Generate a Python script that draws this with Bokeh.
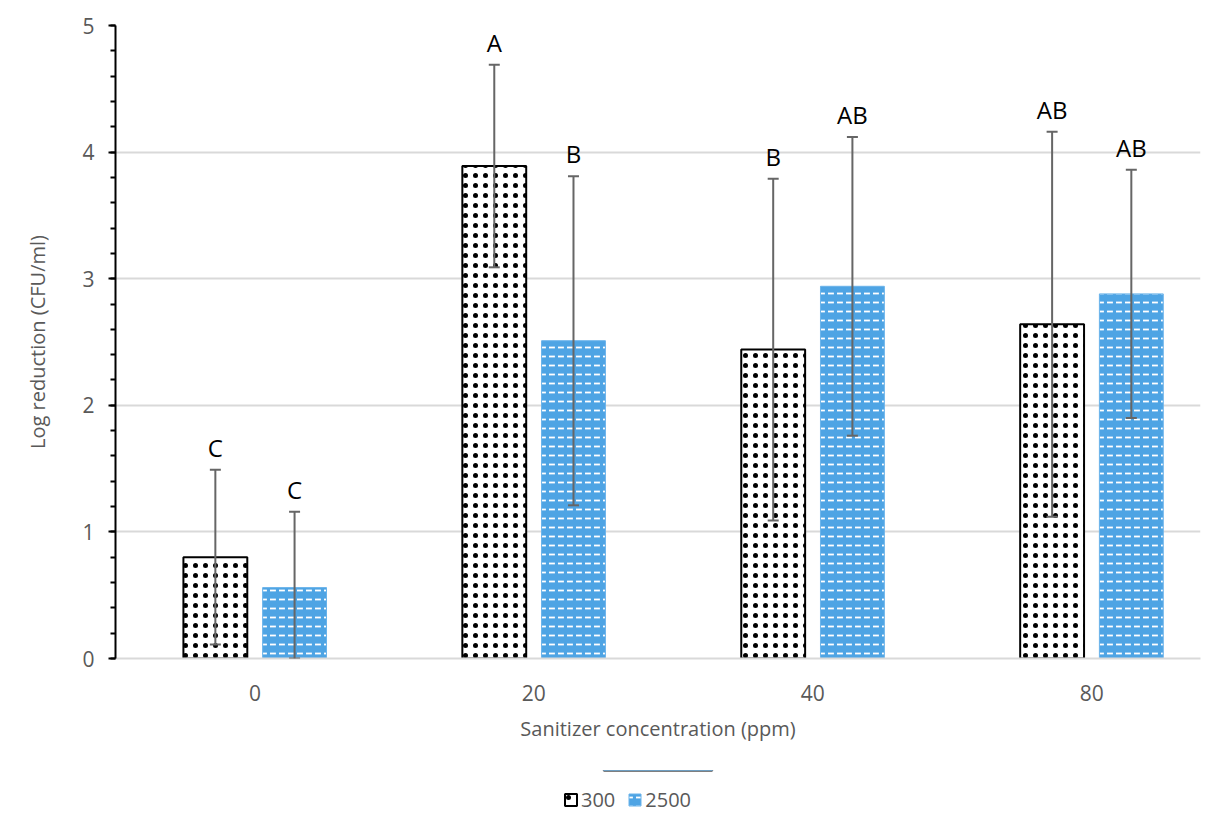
from bokeh.plotting import figure
from bokeh.layouts import column
from bokeh.models import (ColumnDataSource, Whisker, TeeHead, Legend, LegendItem,
                          SingleIntervalTicker, FixedTicker, Range1d)
from bokeh.core.properties import value
from bokeh.embed import file_html
from bokeh.resources import INLINE

# ---- data ----
concentrations = ["0", "20", "40", "80"]
mean_300 = [0.80, 3.89, 2.44, 2.64]
sd_300 = [0.69, 0.80, 1.35, 1.52]
letters_300 = ["C", "A", "B", "AB"]
mean_2500 = [0.56, 2.51, 2.94, 2.88]
sd_2500 = [0.60, 1.30, 1.18, 0.98]
letters_2500 = ["C", "B", "AB", "AB"]
series_names = ["300", "2500"]

FONT = "Open Sans"
GREY = "#595959"

idx = list(range(len(concentrations)))
offset = 0.142
bw = 0.229

STYLE_300 = dict(fill_color="white", line_color="black", line_width=2,
                 hatch_pattern="dot", hatch_color="black", hatch_scale=10,
                 hatch_weight=1.0)
STYLE_2500 = dict(fill_color="#4EA4E4", line_color="#6AB3EA", line_width=1,
                  hatch_pattern="horizontal_dash", hatch_color="white",
                  hatch_scale=9, hatch_weight=1.8)

def make_src(means, sds, letters, shift):
    return ColumnDataSource(dict(
        x=[i + shift for i in idx],
        top=means,
        upper=[m + s for m, s in zip(means, sds)],
        lower=[max(0.0, m - s) for m, s in zip(means, sds)],
        letter=letters,
    ))

src300 = make_src(mean_300, sd_300, letters_300, -offset)
src2500 = make_src(mean_2500, sd_2500, letters_2500, offset)

p = figure(width=1225, height=770, output_backend="svg", toolbar_location=None,
           x_range=Range1d(-0.5, 3.39), y_range=Range1d(0, 5),
           min_border_left=115, min_border_top=25, min_border_right=25,
           min_border_bottom=112)
p.outline_line_color = None
p.background_fill_color = "white"

p.vbar(x="x", top="top", width=bw, source=src300, **STYLE_300)
p.vbar(x="x", top="top", width=bw, source=src2500, **STYLE_2500)

for src in (src300, src2500):
    w = Whisker(base="x", upper="upper", lower="lower", source=src,
                line_color="#666666", line_width=2, level="overlay",
                upper_head=TeeHead(size=11, line_color="#666666", line_width=2),
                lower_head=TeeHead(size=11, line_color="#666666", line_width=2))
    p.add_layout(w)
    p.text(x="x", y="upper", text="letter", source=src, y_offset=-6,
           text_align="center", text_baseline="bottom",
           text_font=value(FONT), text_font_size="24px", text_color="black")

# axes
p.yaxis.ticker = SingleIntervalTicker(interval=1, num_minor_ticks=5)
p.yaxis.axis_line_color = "black"
p.yaxis.axis_line_width = 2
p.yaxis.major_tick_line_color = "black"
p.yaxis.major_tick_line_width = 2
p.yaxis.minor_tick_line_color = "black"
p.yaxis.minor_tick_line_width = 2
p.yaxis.major_tick_in = 0
p.yaxis.major_tick_out = 7
p.yaxis.minor_tick_in = 0
p.yaxis.minor_tick_out = 5
p.yaxis.major_label_standoff = 14
p.yaxis.major_label_text_font = FONT
p.yaxis.major_label_text_font_size = "21px"
p.yaxis.major_label_text_color = GREY
p.yaxis.axis_label = "Log reduction (CFU/ml)"
p.yaxis.axis_label_text_font = FONT
p.yaxis.axis_label_text_font_size = "20px"
p.yaxis.axis_label_text_font_style = "normal"
p.yaxis.axis_label_text_color = GREY
p.yaxis.axis_label_standoff = 28

p.xaxis.ticker = FixedTicker(ticks=idx)
p.xaxis.major_label_overrides = {i: c for i, c in zip(idx, concentrations)}
p.xaxis.axis_line_color = "#d9d9d9"
p.xaxis.axis_line_width = 2
p.xaxis.major_tick_line_color = None
p.xaxis.minor_tick_line_color = None
p.xaxis.major_label_standoff = 20
p.xaxis.major_label_text_font = FONT
p.xaxis.major_label_text_font_size = "21px"
p.xaxis.major_label_text_color = GREY
p.xaxis.axis_label = "Sanitizer concentration (ppm)"
p.xaxis.axis_label_text_font = FONT
p.xaxis.axis_label_text_font_size = "20px"
p.xaxis.axis_label_text_font_style = "normal"
p.xaxis.axis_label_text_color = GREY
p.xaxis.axis_label_standoff = 11

p.xgrid.grid_line_color = None
p.ygrid.grid_line_color = "#d9d9d9"
p.ygrid.grid_line_width = 2

# legend strip below the chart (proxy bars lie above its visible range)
pl = figure(width=1225, height=44, output_backend="svg", toolbar_location=None,
            x_range=Range1d(0, 1), y_range=Range1d(0, 1),
            min_border_left=0, min_border_right=0, min_border_top=0,
            min_border_bottom=0)
pl.axis.visible = False
pl.grid.visible = False
pl.outline_line_color = None
l300 = pl.vbar(x=[0.5], bottom=[2], top=[3], width=0.1, **STYLE_300)
l2500 = pl.vbar(x=[0.5], bottom=[2], top=[3], width=0.1, **STYLE_2500)
legend = Legend(items=[LegendItem(label=series_names[0], renderers=[l300]),
                       LegendItem(label=series_names[1], renderers=[l2500])],
                orientation="horizontal", location=(448, 1),
                label_text_font=FONT, label_text_font_size="20px",
                label_text_color=GREY, glyph_width=15, glyph_height=15,
                spacing=12, label_standoff=3, padding=2, margin=0,
                border_line_color=None, background_fill_alpha=0)
pl.add_layout(legend, "center")

layout = column(p, pl, spacing=0)
open("out.html", "w").write(file_html(layout, INLINE))
